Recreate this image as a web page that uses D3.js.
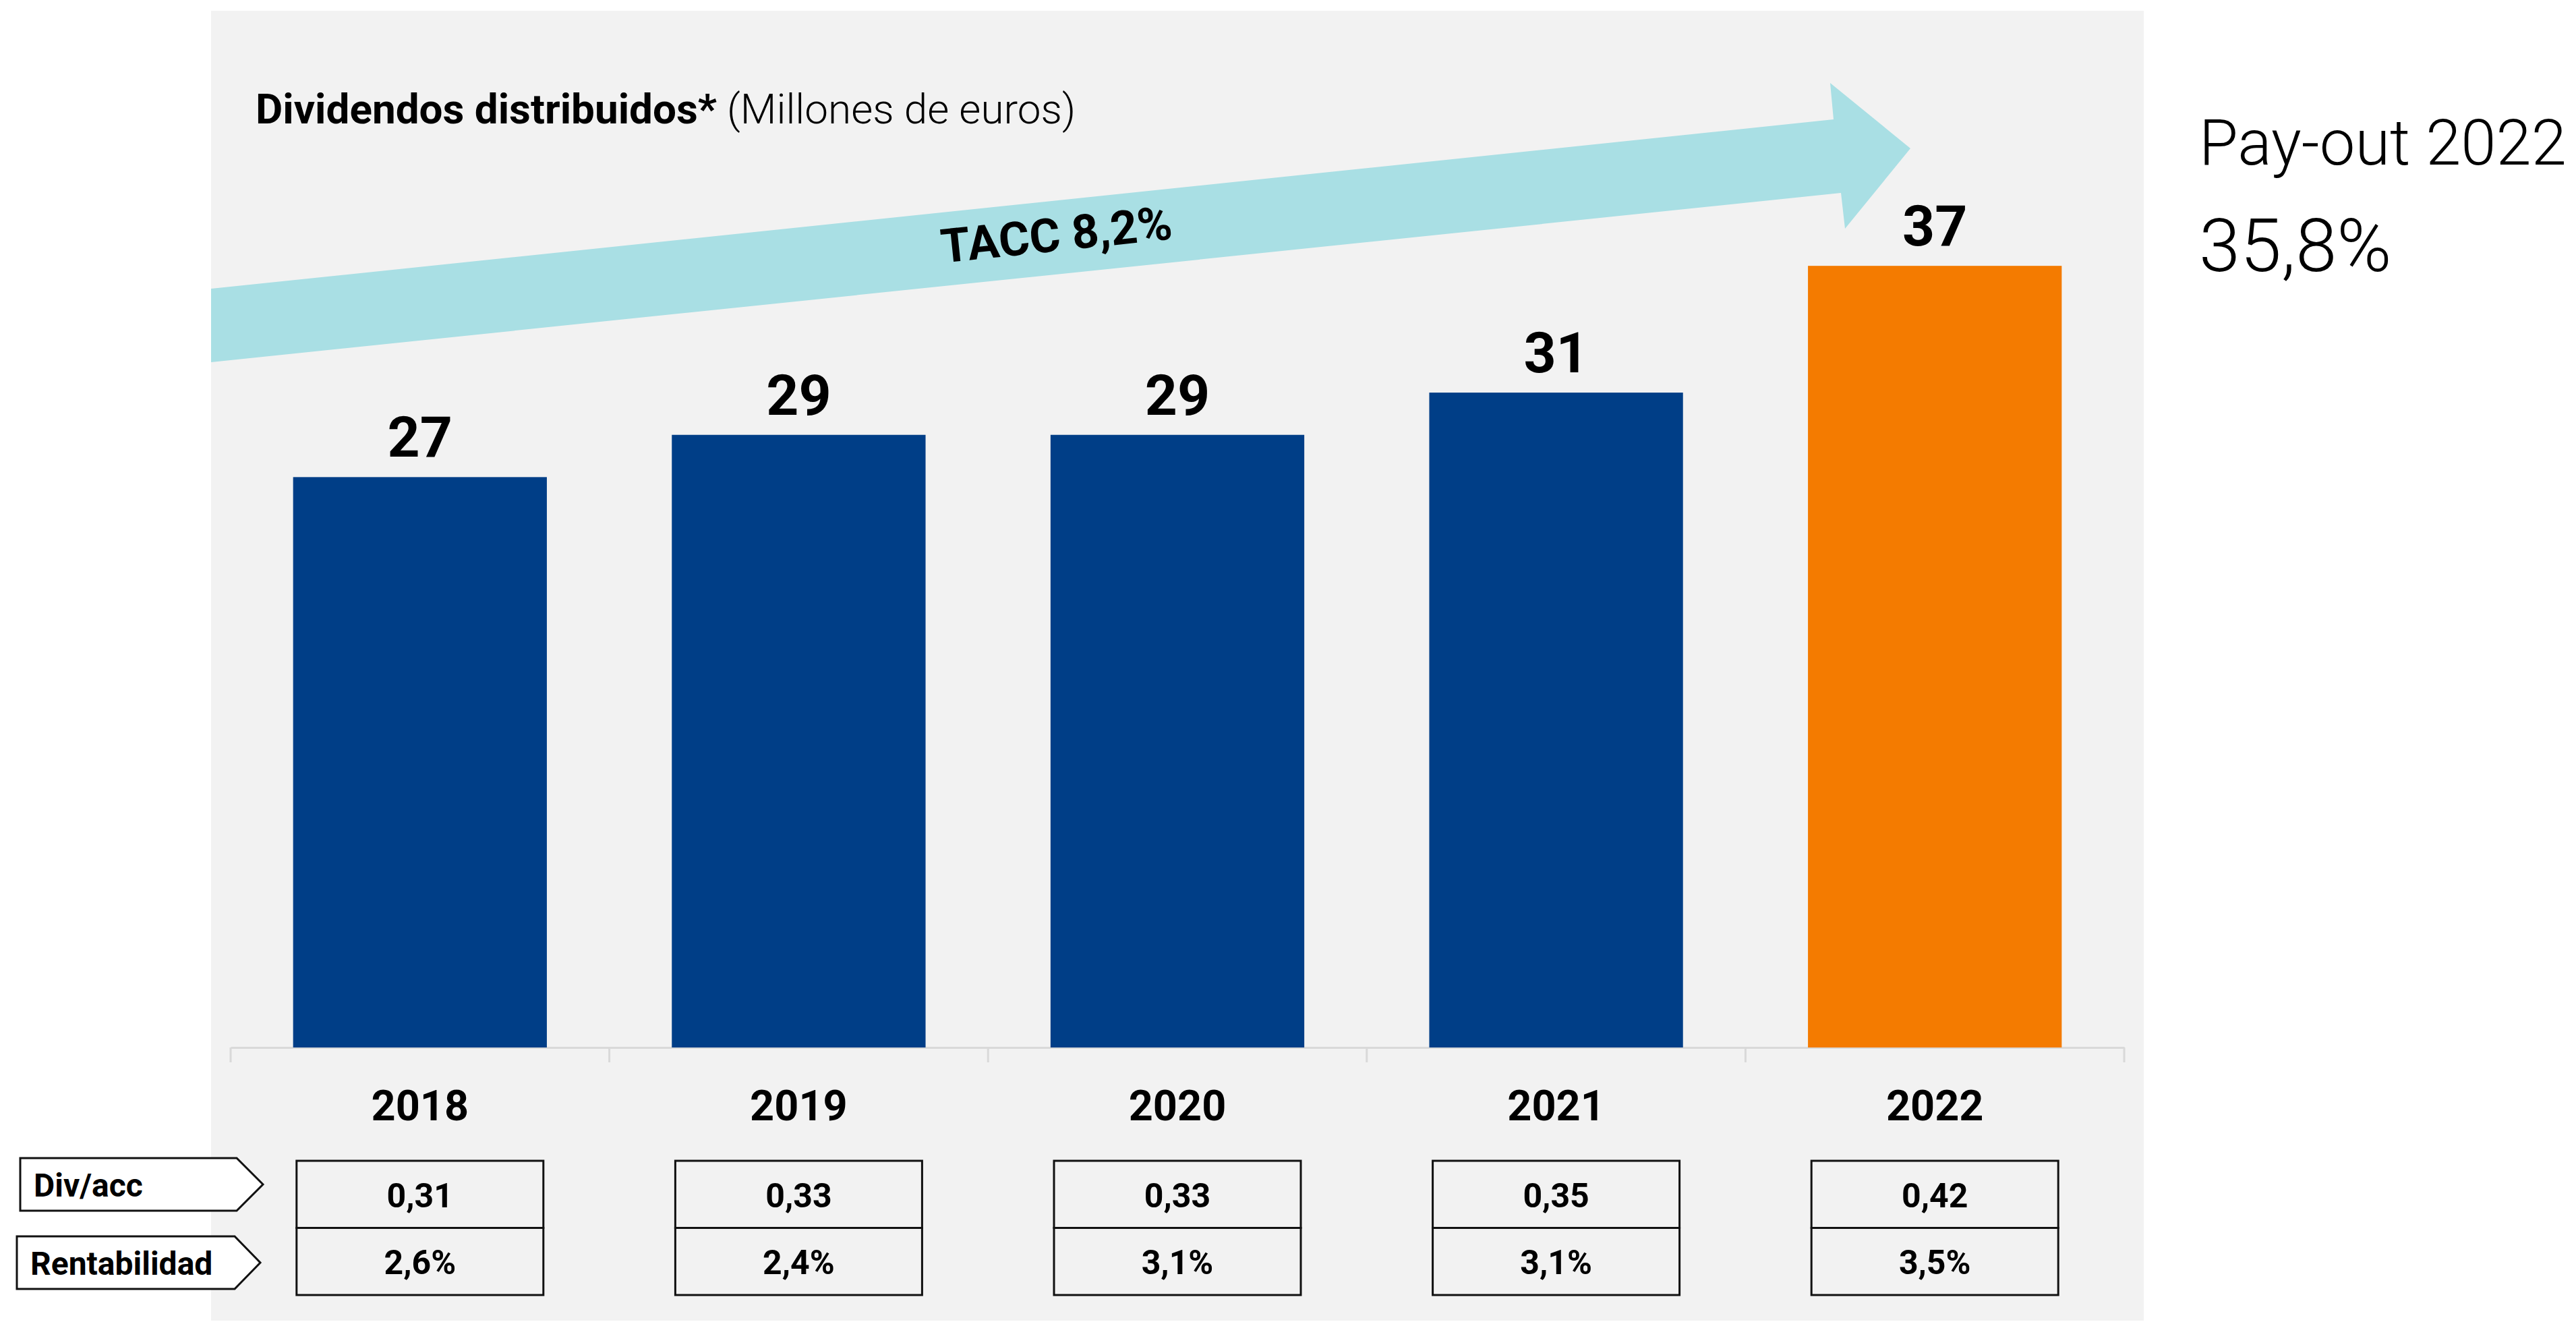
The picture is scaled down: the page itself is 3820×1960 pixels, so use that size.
<!DOCTYPE html>
<html>
<head>
<meta charset="utf-8">
<script src="https://cdn.jsdelivr.net/npm/d3@7"></script>
<style>
	body { margin: 0; background: #ffffff; }
	text { font-family: Roboto, "Liberation Sans", sans-serif; }
</style>
</head>
<body>
<div id="chart"></div>
<script>
// data
var years = ["2018", "2019", "2020", "2021", "2022"];
var dividends = [27, 29, 29, 31, 37];
var divPerShare = ["0,31", "0,33", "0,33", "0,35", "0,42"];
var yieldValues = ["2,6%", "2,4%", "3,1%", "3,1%", "3,5%"];
var rowLabels = ["Div/acc", "Rentabilidad"];
var growthLabel = "TACC 8,2%";
var payoutLabel = "Pay-out 2022";
var payoutValue = "35,8%";

var width = 3820, height = 1960;
var panel = {left: 313, top: 16, right: 3179, bottom: 1958};
var plot = {left: 342, right: 3150, base: 1553};

var svg = d3.select("#chart").append("svg")
	.attr("width", width)
	.attr("height", height);

svg.append("rect")
	.attr("x", panel.left)
	.attr("y", panel.top)
	.attr("width", panel.right - panel.left)
	.attr("height", panel.bottom - panel.top)
	.attr("fill", "#f2f2f2");

var x = d3.scaleBand()
	.domain(years)
	.range([plot.left, plot.right])
	.paddingInner(0.33)
	.paddingOuter(0.165);

// boundaries for the tick marks
var step = (plot.right - plot.left) / years.length;

var y = d3.scaleLinear()
	.domain([0, 40])
	.range([plot.base, plot.base - 40 * 31.32]);

// growth arrow (behind bars)
svg.append("clipPath")
	.attr("id", "panelclip")
	.append("rect")
	.attr("x", panel.left)
	.attr("y", panel.top)
	.attr("width", panel.right - panel.left)
	.attr("height", panel.bottom - panel.top);

var arrowPts = [[313, 428], [2719, 177], [2714, 123], [2833, 220], [2736, 339], [2730, 286], [313, 537]];
svg.append("polygon")
	.attr("clip-path", "url(#panelclip)")
	.attr("points", arrowPts.map(function(p) { return p.join(","); }).join(" "))
	.attr("fill", "#a9dfe4");

var slope = Math.atan2(177 - 428, 2719 - 313) * 180 / Math.PI;
svg.append("text")
	.attr("transform", "translate(1569,372) rotate(" + slope + ")")
	.attr("text-anchor", "middle")
	.style("font-size", "70px")
	.style("font-weight", "700")
	.attr("fill", "#000")
	.text(growthLabel);

// title
var title = svg.append("text")
	.attr("x", 379)
	.attr("y", 183)
	.style("font-size", "62px")
	.attr("fill", "#000");
title.append("tspan").style("font-weight", "700").text("Dividendos distribuidos*");
title.append("tspan").style("font-weight", "300").text(" (Millones de euros)");

// axis
var axis = svg.append("g")
	.attr("transform", "translate(0," + plot.base + ")")
	.call(d3.axisBottom(x).tickSize(0).tickFormat(""));
axis.select(".domain").attr("stroke", "#d9d9d9").attr("stroke-width", 3);
svg.selectAll(".tickline")
	.data(d3.range(years.length + 1))
	.enter()
	.append("line")
	.attr("x1", function(d) { return plot.left + d * step; })
	.attr("x2", function(d) { return plot.left + d * step; })
	.attr("y1", plot.base)
	.attr("y2", plot.base + 22)
	.attr("stroke", "#d9d9d9")
	.attr("stroke-width", 3);

// bars
svg.selectAll(".bar")
	.data(dividends)
	.enter()
	.append("rect")
	.attr("class", "bar")
	.attr("x", function(d, i) { return x(years[i]); })
	.attr("y", function(d) { return y(d); })
	.attr("width", x.bandwidth())
	.attr("height", function(d) { return y(0) - y(d); })
	.attr("fill", function(d, i) { return i == years.length - 1 ? "#f47b00" : "#003e87"; });

svg.selectAll(".vlabel")
	.data(dividends)
	.enter()
	.append("text")
	.attr("x", function(d, i) { return x(years[i]) + x.bandwidth() / 2; })
	.attr("y", function(d) { return y(d) - 30; })
	.attr("text-anchor", "middle")
	.style("font-size", "84px")
	.style("font-weight", "700")
	.text(function(d) { return d; });

// year labels
svg.selectAll(".year")
	.data(years)
	.enter()
	.append("text")
	.attr("x", function(d) { return x(d) + x.bandwidth() / 2; })
	.attr("y", 1661)
	.attr("text-anchor", "middle")
	.style("font-size", "63px")
	.style("font-weight", "700")
	.text(function(d) { return d; });

// table
var cellW = 366, rowTop = 1721, rowH = 99.5;
var rows = [divPerShare, yieldValues];
rows.forEach(function(vals, r) {
	svg.selectAll(".cell" + r)
		.data(vals)
		.enter()
		.append("rect")
		.attr("x", function(d, i) { return x(years[i]) + x.bandwidth() / 2 - cellW / 2; })
		.attr("y", rowTop + r * rowH)
		.attr("width", cellW)
		.attr("height", rowH)
		.attr("fill", "none")
		.attr("stroke", "#111")
		.attr("stroke-width", 3);
	svg.selectAll(".celltext" + r)
		.data(vals)
		.enter()
		.append("text")
		.attr("x", function(d, i) { return x(years[i]) + x.bandwidth() / 2; })
		.attr("y", rowTop + r * rowH + rowH / 2 + 19)
		.attr("text-anchor", "middle")
		.style("font-size", "50px")
		.style("font-weight", "700")
		.text(function(d) { return d; });
});

// row labels as arrow tags
var tags = [
	{x0: 30, x1: 351, tip: 390, top: 1717, bottom: 1795},
	{x0: 25, x1: 348, tip: 386, top: 1833, bottom: 1911}
];
tags.forEach(function(t, i) {
	var mid = (t.top + t.bottom) / 2;
	svg.append("polygon")
		.attr("points", [[t.x0, t.top], [t.x1, t.top], [t.tip, mid], [t.x1, t.bottom], [t.x0, t.bottom]]
			.map(function(p) { return p.join(","); }).join(" "))
		.attr("fill", "#ffffff")
		.attr("stroke", "#111")
		.attr("stroke-width", 3);
	svg.append("text")
		.attr("x", t.x0 + 20)
		.attr("y", mid + 18)
		.style("font-size", "48px")
		.style("font-weight", "700")
		.text(rowLabels[i]);
});

// pay-out note
svg.append("text")
	.attr("x", 3261)
	.attr("y", 244)
	.style("font-size", "94px")
	.style("font-weight", "300")
	.text(payoutLabel);
svg.append("text")
	.attr("x", 3261)
	.attr("y", 402)
	.style("font-size", "110px")
	.style("font-weight", "300")
	.text(payoutValue);
</script>
</body>
</html>
